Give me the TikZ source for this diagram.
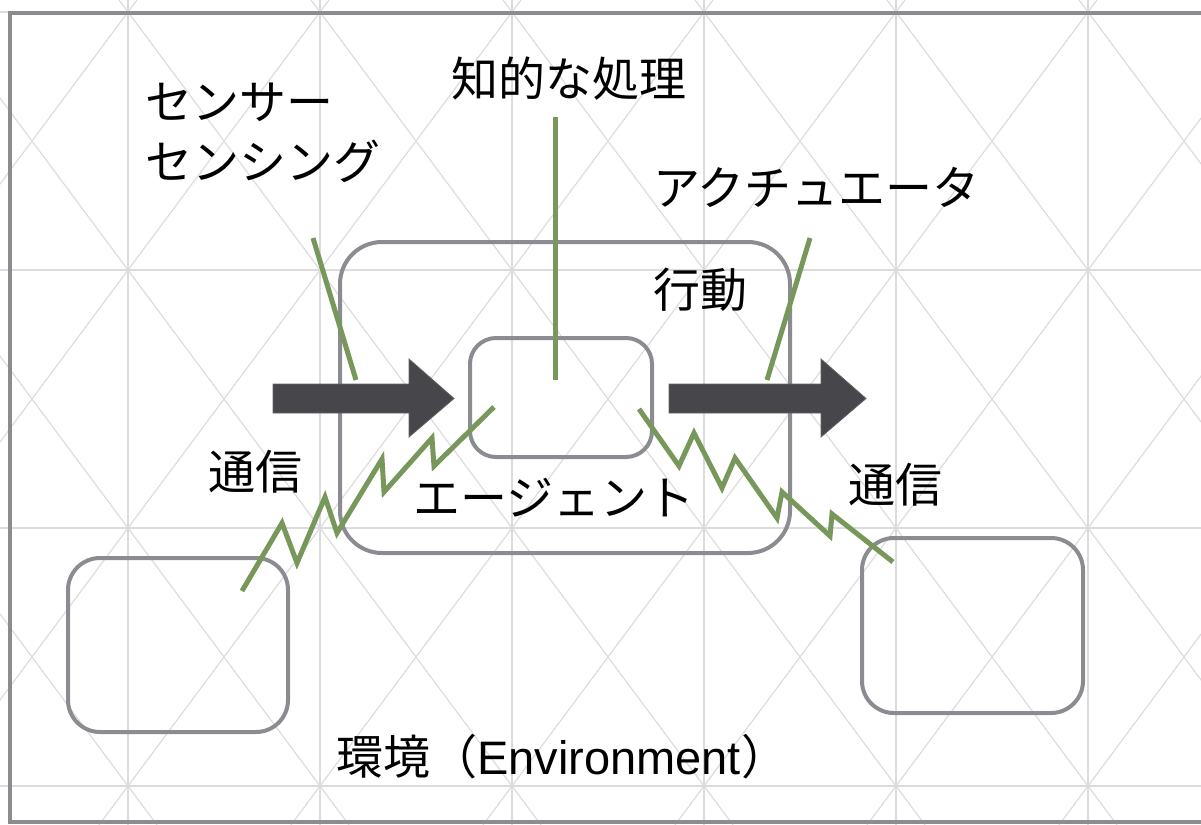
\documentclass[tikz,border=0pt]{standalone}
\usepackage{fontspec}
\setmainfont{Noto Sans CJK JP}
\newfontfamily\lat{Liberation Sans}
\definecolor{gridc}{HTML}{DCDCDC}
\definecolor{chalk}{HTML}{8A8C91}
\definecolor{leaf}{HTML}{77985A}
\definecolor{arrowc}{HTML}{46464B}
\begin{document}
\begin{tikzpicture}[x=1pt,y=-1pt,
  gridline/.style={draw=gridc, line width=1.2pt},
  box/.style={draw=chalk, line width=4pt, rounded corners=#1, inner sep=0pt, minimum width=10pt},
  callout/.style={draw=leaf, line width=5pt, line join=miter},
  lbl/.style={font=\fontsize{47}{60}\selectfont, inner sep=0pt, anchor=west, text=black},
  bigarrow/.style={fill=arrowc, draw=arrowc!85!white, line width=0.8pt, line join=miter}]
\useasboundingbox (0,0) rectangle (1201,824);
\begin{scope}
  \clip (0,0) rectangle (1201,824);
  \foreach \i in {-1,...,6} \draw[gridline] ({128+192*\i},-10) -- ({128+192*\i},840);
  \foreach \j in {0,...,3} \draw[gridline] (-10,{12+258*\j}) -- (1220,{12+258*\j});
  \foreach \i in {-1,...,5} \foreach \j in {-1,...,3} {
    \draw[gridline] ({128+192*\i},{12+258*\j}) -- ({320+192*\i},{270+258*\j});
    \draw[gridline] ({320+192*\i},{12+258*\j}) -- ({128+192*\i},{270+258*\j});
  }
  \draw[chalk, line width=4pt] (1220,13) -- (10,13) -- (10,822) -- (1220,822);
\end{scope}
% boxes
\node[box=42pt, minimum width=450pt, minimum height=311pt] (agent) at (565,397.5) {};
\node[box=26pt, minimum width=182pt, minimum height=119pt] (core) at (561,397.5) {};
\node[box=32pt, minimum width=220pt, minimum height=174pt] (peerL) at (178,645) {};
\node[box=32pt, minimum width=221pt, minimum height=175pt] (peerR) at (972.5,625.5) {};
% arrows
\draw[bigarrow] (273,384) -- (409,384) -- (409,359) -- (454,398.5) -- (409,437) -- (409,413) -- (273,413) -- cycle;
\draw[bigarrow] (669,384) -- (821,384) -- (821,359) -- (866,398.5) -- (821,437) -- (821,413) -- (669,413) -- cycle;
% labels
\node[lbl, align=left] (sensor) at (145,133) {センサー\\センシング};
\node[lbl] (proc) at (451,79) {知的な処理};
\node[lbl] (act) at (653,187) {アクチュエータ};
\node[lbl] (action) at (653,290) {行動};
\node[lbl] (commL) at (208,472) {通信};
\node[lbl] (agentlbl) at (413,498) {エージェント};
\node[lbl] (commR) at (848,485) {通信};
\node[lbl] (env) at (336,757) {環境（{\lat Environment}）};
% callout lines
\coordinate (s1) at (313,238); \coordinate (s2) at (356,380);
\coordinate (p1) at (555,117); \coordinate (p2) at (555,380);
\coordinate (a1) at (810,238); \coordinate (a2) at (767,380);
\draw[callout] (s1) -- (s2);
\draw[callout] (p1) -- (p2);
\draw[callout] (a1) -- (a2);
\coordinate (zl1) at (242,591); \coordinate (zl2) at (494,407);
\draw[callout] (zl1) -- (282,523) -- (297,563) -- (325,497) -- (337,533) -- (382,459) -- (384,492) -- (432,438) -- (434,466) -- (zl2);
\coordinate (zr1) at (639,409); \coordinate (zr2) at (893,562);
\draw[callout] (zr1) -- (679,466) -- (694,433) -- (722,488) -- (735,458) -- (777,518) -- (782,492) -- (830,536) -- (832,514) -- (zr2);
\end{tikzpicture}
\end{document}
